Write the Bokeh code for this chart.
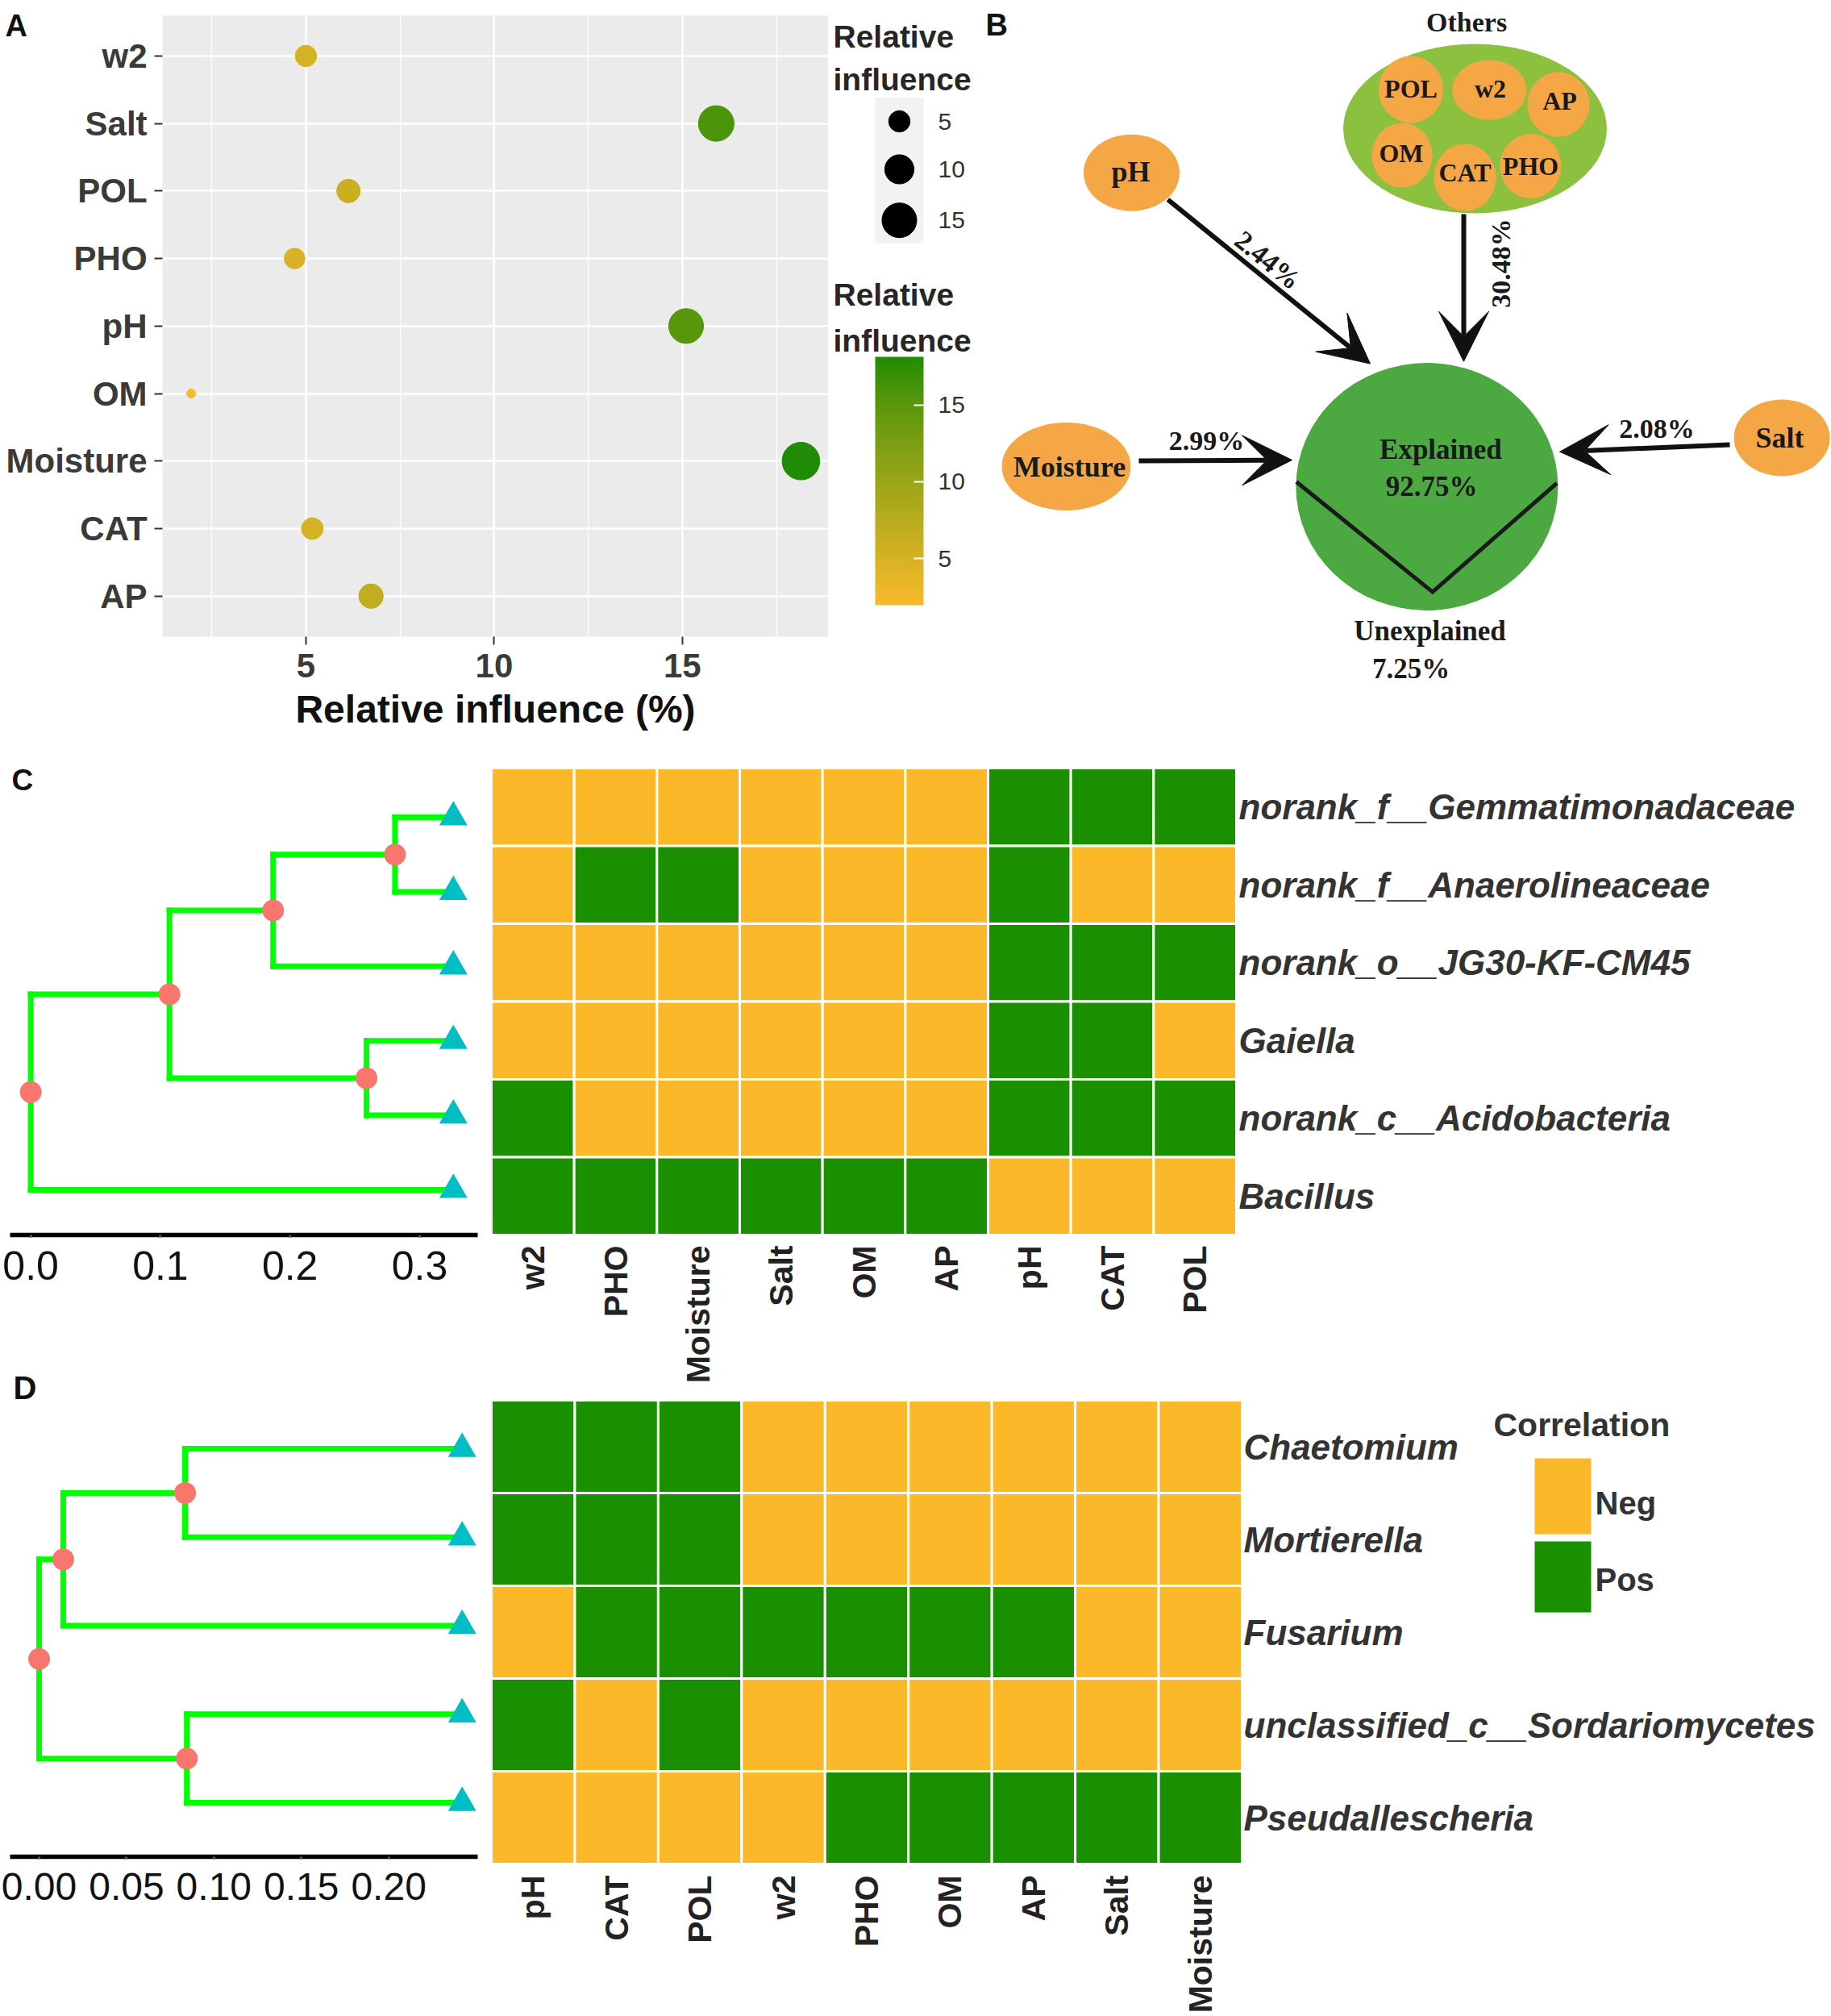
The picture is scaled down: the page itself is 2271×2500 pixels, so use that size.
import math
from bokeh.plotting import figure
from bokeh.models import (Range1d, FixedTicker, Label, Arrow, VeeHead,
                          ColorBar, LinearColorMapper, PrintfTickFormatter)
from bokeh.layouts import row, column
from bokeh.core.properties import value
from bokeh.embed import file_html
from bokeh.resources import INLINE

# ---------------- data ----------------
# Panel A : relative influence (%) of each factor (top to bottom)
a_factors = ["w2", "Salt", "POL", "PHO", "pH", "OM", "Moisture", "CAT", "AP"]
a_influence = [5.0, 15.9, 6.13, 4.7, 15.1, 1.95, 18.15, 5.17, 6.73]
a_x_ticks = [5, 10, 15]
a_x_minor = [2.5, 7.5, 12.5, 17.5]
a_size_legend = [5, 10, 15]
a_color_ticks = [5, 10, 15]

# Panel B : path diagram
b_others = ["POL", "w2", "AP", "OM", "CAT", "PHO"]
b_sources = ["pH", "Others", "Moisture", "Salt"]
b_percent = ["2.44%", "30.48%", "2.99%", "2.08%"]
b_explained = "92.75%"
b_unexplained = "7.25%"

# Panel C : bacterial genera x factors (1 = Pos, 0 = Neg)
c_taxa = ["norank_f__Gemmatimonadaceae", "norank_f__Anaerolineaceae",
          "norank_o__JG30-KF-CM45", "Gaiella", "norank_c__Acidobacteria", "Bacillus"]
c_factors = ["w2", "PHO", "Moisture", "Salt", "OM", "AP", "pH", "CAT", "POL"]
c_sign = [
    [0, 0, 0, 0, 0, 0, 1, 1, 1],
    [0, 1, 1, 0, 0, 0, 1, 0, 0],
    [0, 0, 0, 0, 0, 0, 1, 1, 1],
    [0, 0, 0, 0, 0, 0, 1, 1, 0],
    [1, 0, 0, 0, 0, 0, 1, 1, 1],
    [1, 1, 1, 1, 1, 1, 0, 0, 0],
]
# merges: (child a, child b, node depth); leaves 0..5, new nodes numbered from 6
c_merges = [(0, 1, 0.281), (6, 2, 0.187), (3, 4, 0.259), (7, 8, 0.107), (9, 5, 0.0)]
c_leaf_depth = 0.326
c_ticks = [0.0, 0.1, 0.2, 0.3]

# Panel D : fungal genera x factors
d_taxa = ["Chaetomium", "Mortierella", "Fusarium",
          "unclassified_c__Sordariomycetes", "Pseudallescheria"]
d_factors = ["pH", "CAT", "POL", "w2", "PHO", "OM", "AP", "Salt", "Moisture"]
d_sign = [
    [1, 1, 1, 0, 0, 0, 0, 0, 0],
    [1, 1, 1, 0, 0, 0, 0, 0, 0],
    [0, 1, 1, 1, 1, 1, 1, 0, 0],
    [1, 0, 1, 0, 0, 0, 0, 0, 0],
    [0, 0, 0, 0, 1, 1, 1, 1, 1],
]
d_merges = [(0, 1, 0.0835), (5, 2, 0.0138), (3, 4, 0.0845), (6, 7, 0.0)]
d_leaf_depth = 0.242
d_ticks = [0.0, 0.05, 0.10, 0.15, 0.20]
legend_labels = ["Neg", "Pos"]

# ---------------- style ----------------
SANS = "Liberation Sans"
SERIF = "Liberation Serif"
NEG_COL = "#FBB829"
POS_COL = "#1A8F00"
LOW_COL = "#F9B92B"
HIGH_COL = "#1E8C05"
ORANGE = "#F6A745"


def _lin(c):
    return c / 12.92 if c <= 0.04045 else ((c + 0.055) / 1.055) ** 2.4


def _gam(c):
    c = min(max(c, 0.0), 1.0)
    return 12.92 * c if c <= 0.0031308 else 1.055 * c ** (1 / 2.4) - 0.055


WP = (0.95047, 1.0, 1.08883)


def hex2lab(h):
    r, g, b = [_lin(int(h[i:i + 2], 16) / 255) for i in (1, 3, 5)]
    X = 0.4124 * r + 0.3576 * g + 0.1805 * b
    Y = 0.2126 * r + 0.7152 * g + 0.0722 * b
    Z = 0.0193 * r + 0.1192 * g + 0.9505 * b
    f = lambda t: t ** (1 / 3) if t > 0.008856 else 7.787 * t + 16 / 116
    fx, fy, fz = f(X / WP[0]), f(Y / WP[1]), f(Z / WP[2])
    return (116 * fy - 16, 500 * (fx - fy), 200 * (fy - fz))


def lab2hex(L, a, b):
    fy = (L + 16) / 116
    fx = fy + a / 500
    fz = fy - b / 200
    finv = lambda t: t ** 3 if t ** 3 > 0.008856 else (t - 16 / 116) / 7.787
    X, Y, Z = finv(fx) * WP[0], finv(fy) * WP[1], finv(fz) * WP[2]
    r = 3.2406 * X - 1.5372 * Y - 0.4986 * Z
    g = -0.9689 * X + 1.8758 * Y + 0.0415 * Z
    bb = 0.0557 * X - 0.2040 * Y + 1.0570 * Z
    return "#%02x%02x%02x" % tuple(int(round(_gam(c) * 255)) for c in (r, g, bb))


LAB_LO, LAB_HI = hex2lab(LOW_COL), hex2lab(HIGH_COL)


def grad(t):
    t = min(max(t, 0.0), 1.0)
    return lab2hex(*[lo + (hi - lo) * t for lo, hi in zip(LAB_LO, LAB_HI)])


vmin, vmax = min(a_influence), max(a_influence)


def pt_size(v):
    return 11 + 35.7 * math.sqrt(max(v - vmin, 0) / (vmax - vmin))


def pt_color(v):
    return grad((v - vmin) / (vmax - vmin))


def plain(p):
    p.outline_line_color = None
    p.grid.visible = False
    return p


# ---------------- Panel A ----------------
nA = len(a_factors)
a_ypos = [nA - 1 - i for i in range(nA)]           # w2 on top
A_XLO, A_XHI = 1.19, 18.88                         # panel extent (data units)
A_YLO, A_YHI = -0.6, nA - 1 + 0.6
pA = figure(width=1027, height=940, x_range=Range1d(-3.116, A_XHI), y_range=Range1d(-2.404, 8.823),
            min_border=0, output_backend="svg", toolbar_location=None)
pA.outline_line_color = None
pA.quad(left=[A_XLO], right=[A_XHI], bottom=[A_YLO], top=[A_YHI], fill_color="#EBEBEB",
        line_color=None, level="image")
pA.scatter(x=a_influence, y=a_ypos, size=[pt_size(v) for v in a_influence],
           fill_color=[pt_color(v) for v in a_influence],
           line_color=[pt_color(v) for v in a_influence])
pA.xaxis.ticker = FixedTicker(ticks=a_x_ticks, minor_ticks=a_x_minor)
pA.yaxis.ticker = FixedTicker(ticks=a_ypos)
pA.yaxis.major_label_overrides = {y: f for y, f in zip(a_ypos, a_factors)}
pA.xaxis.fixed_location = A_YLO
pA.yaxis.fixed_location = A_XLO
pA.xaxis.bounds = (A_XLO, A_XHI)
pA.yaxis.bounds = (A_YLO, A_YHI)
pA.xgrid.grid_line_color = "white"
pA.xgrid.grid_line_width = 2.5
pA.xgrid.minor_grid_line_color = "white"
pA.xgrid.minor_grid_line_width = 1.2
pA.ygrid.grid_line_color = "white"
pA.ygrid.grid_line_width = 2.5
for ax in pA.axis:
    ax.axis_line_color = None
    ax.major_tick_line_color = "#333333"
    ax.major_tick_line_width = 2
    ax.major_tick_out = 10
    ax.major_tick_in = 0
    ax.minor_tick_line_color = None
    ax.major_label_text_font = SANS
    ax.major_label_text_font_style = "bold"
    ax.major_label_text_font_size = "42px"
    ax.major_label_text_color = "#3a3a3a"
pA.yaxis.major_label_standoff = 9
pA.xaxis.major_label_standoff = 12
pA.xaxis.axis_label = "Relative influence (%)"
pA.xaxis.axis_label_text_font = SANS
pA.xaxis.axis_label_text_font_style = "bold"
pA.xaxis.axis_label_text_font_size = "48px"
pA.xaxis.axis_label_text_color = "#111111"
pA.xaxis.axis_label_standoff = 9
pA.add_layout(Label(x=-2.99, y=8.70, text="A", text_font=SANS, text_font_style="bold",
                    text_font_size="38px", text_baseline="top", text_color="#111111"))

# ---------------- Panel A legends ----------------
pL = plain(figure(width=180, height=940, x_range=Range1d(1027, 1207), y_range=Range1d(940, 0),
                  x_axis_location=None, y_axis_location=None, min_border=0,
                  output_backend="svg", toolbar_location=None))
pL.text(x=[1033] * 4, y=[45, 98, 364.5, 422],
        text=["Relative", "influence", "Relative", "influence"],
        text_font=value(SANS), text_font_style="bold", text_font_size="39px",
        text_color="#262626", text_align="left", text_baseline="middle")
pL.quad(left=[1085], right=[1145], top=[120.5], bottom=[301], fill_color="#F2F2F2", line_color=None)
size_y = [150, 209.5, 272.7]
pL.scatter(x=[1115] * len(a_size_legend), y=size_y, size=[pt_size(v) for v in a_size_legend],
           fill_color="black", line_color="black")
pL.text(x=[1163] * len(a_size_legend), y=size_y, text=[str(v) for v in a_size_legend],
        text_font=value(SANS), text_font_size="30px", text_color="#333333",
        text_align="left", text_baseline="middle")
mapper = LinearColorMapper(palette=[grad(i / 255) for i in range(256)], low=vmin, high=vmax)
cbar = ColorBar(color_mapper=mapper, ticker=FixedTicker(ticks=a_color_ticks), orientation="vertical",
                width=60, height=308, location=(58, 190), padding=0, title=None,
                bar_line_color=None, major_tick_line_color="white", major_tick_line_width=2,
                major_tick_in=12, major_tick_out=0, minor_tick_line_color=None,
                major_label_text_font=SANS, major_label_text_font_size="30px",
                major_label_text_color="#333333", label_standoff=18,
                background_fill_alpha=0, border_line_color=None)
pL.add_layout(cbar)

# ---------------- Panel B ----------------
pB = plain(figure(width=1064, height=940, x_range=Range1d(1207, 2271), y_range=Range1d(940, 0),
                  x_axis_location=None, y_axis_location=None, min_border=0,
                  output_backend="svg", toolbar_location=None))
# layout of the diagram (pixel positions)
others_pos = {"POL": (1749.5, 110.5, 80, 83), "w2": (1847, 111, 92, 74), "AP": (1932.5, 129, 77, 80),
              "OM": (1738.5, 192, 75, 80), "CAT": (1816.5, 219.6, 77, 83), "PHO": (1898, 205.5, 76, 80)}
others_txt = {"POL": (1749.5, 109), "w2": (1848, 109), "AP": (1934, 124.5),
              "OM": (1737.5, 189), "CAT": (1816.6, 213.5), "PHO": (1898, 205)}
src_pos = {"pH": (1403, 213.7, 119, 95), "Moisture": (1322, 578, 160, 109), "Salt": (2209.6, 542.4, 119, 95)}
src_txt = {"pH": (1402, 212), "Moisture": (1326, 578), "Salt": (2207, 542)}
arrow_pos = {"pH": (1448, 247, 1699, 450.6), "Others": (1815, 265, 1815, 447.7),
             "Moisture": (1412, 571, 1602, 570), "Salt": (2145, 551, 1934, 559.7)}
pct_pos = {"pH": (1572, 322, -0.68), "Others": (1861, 326, math.pi / 2),
           "Moisture": (1496, 546, 0), "Salt": (2054.5, 531, 0)}

pB.ellipse(x=[1829], y=[159], width=[327], height=[210], fill_color="#8CC13F", line_color=None)
pB.ellipse(x=[others_pos[k][0] for k in b_others], y=[others_pos[k][1] for k in b_others],
           width=[others_pos[k][2] for k in b_others], height=[others_pos[k][3] for k in b_others],
           fill_color=ORANGE, line_color=None)
pB.text(x=[others_txt[k][0] for k in b_others], y=[others_txt[k][1] for k in b_others], text=b_others,
        text_font=value(SERIF), text_font_style="bold", text_font_size="32px", text_color="#1a1a1a",
        text_align="center", text_baseline="middle")
pB.text(x=[1818.6], y=[27], text=["Others"], text_font=value(SERIF), text_font_style="bold",
        text_font_size="34px", text_color="#1a1a1a", text_align="center", text_baseline="middle")
src = ["pH", "Moisture", "Salt"]
pB.ellipse(x=[src_pos[k][0] for k in src], y=[src_pos[k][1] for k in src],
           width=[src_pos[k][2] for k in src], height=[src_pos[k][3] for k in src],
           fill_color=ORANGE, line_color=None)
pB.text(x=[src_txt[k][0] for k in src], y=[src_txt[k][1] for k in src], text=src,
        text_font=value(SERIF), text_font_style="bold", text_font_size="36px", text_color="#1a1a1a",
        text_align="center", text_baseline="middle")
pB.ellipse(x=[1769.4], y=[603], width=[325], height=[307], fill_color="#4CA840", line_color=None)
pB.line(x=[1607.4, 1776.3, 1930.5], y=[597, 733.6, 598.7], line_color="#1a1a1a", line_width=5,
        line_join="miter")
pB.text(x=[1786.4, 1775, 1773, 1749.5], y=[557, 603, 782, 829],
        text=["Explained", b_explained, "Unexplained", b_unexplained],
        text_font=value(SERIF), text_font_style="bold", text_font_size="35px", text_color="#1a1a1a",
        text_align="center", text_baseline="middle")
for k in b_sources:
    x0, y0, x1, y1 = arrow_pos[k]
    pB.add_layout(Arrow(end=VeeHead(size=62, fill_color="#111111", line_color="#111111"),
                        x_start=x0, y_start=y0, x_end=x1, y_end=y1,
                        line_width=6, line_color="#111111"))
pB.text(x=[pct_pos[k][0] for k in b_sources], y=[pct_pos[k][1] for k in b_sources],
        angle=[pct_pos[k][2] for k in b_sources], text=b_percent,
        text_font=value(SERIF), text_font_style="bold", text_font_size="34px", text_color="#1a1a1a",
        text_align="center", text_baseline="middle")
pB.add_layout(Label(x=1222, y=9, text="B", text_font=SANS, text_font_style="bold",
                    text_font_size="38px", text_baseline="top", text_color="#111111"))


# ---------------- dendrograms ----------------
def dendro(width, height, left, right, bottom, xr, yr, n, merges, leaf_depth, ticks, fmt,
           font_size, letter, letter_xy, letter_size):
    p = figure(width=width, height=height, x_range=Range1d(*xr), y_range=Range1d(*yr),
               min_border_left=left, min_border_right=right, min_border_top=0,
               min_border_bottom=bottom, y_axis_location=None,
               output_backend="svg", toolbar_location=None)
    plain(p)
    xs = {i: leaf_depth for i in range(n)}
    ys = {i: n - i - 0.5 for i in range(n)}
    x0, y0, x1, y1, nx, ny = [], [], [], [], [], []
    for k, (a, b, h) in enumerate(merges):
        nid = n + k
        yn = (ys[a] + ys[b]) / 2
        xs[nid], ys[nid] = h, yn
        x0 += [h, h, h]
        y0 += [ys[a], ys[a], ys[b]]
        x1 += [h, xs[a], xs[b]]
        y1 += [ys[b], ys[a], ys[b]]
        nx.append(h)
        ny.append(yn)
    p.segment(x0=x0, y0=y0, x1=x1, y1=y1, line_color="#00FF00", line_width=7, line_cap="square")
    p.scatter(x=nx, y=ny, size=27, fill_color="#F8766D", line_color=None)
    p.scatter(x=[leaf_depth] * n, y=[ys[i] for i in range(n)], marker="triangle", size=35,
              fill_color="#00BFC4", line_color=None)
    ax = p.xaxis[0]
    ax.ticker = FixedTicker(ticks=ticks)
    ax.formatter = PrintfTickFormatter(format=fmt)
    ax.axis_line_color = "black"
    ax.axis_line_width = 5.5
    ax.major_tick_line_color = "#555555"
    ax.major_tick_line_width = 3
    ax.major_tick_out = 3
    ax.major_tick_in = 0
    ax.minor_tick_line_color = None
    ax.major_label_text_font = SANS
    ax.major_label_text_font_size = font_size
    ax.major_label_text_color = "#111111"
    ax.major_label_standoff = 17
    p.add_layout(Label(x=letter_xy[0], y=letter_xy[1], x_units="screen", y_units="screen",
                       text=letter, text_font=SANS, text_font_style="bold",
                       text_font_size=letter_size, text_baseline="top", text_color="#111111"))
    return p


pDC = dendro(609, 760, 12, 17, 169, (-0.01592, 0.3448), (-0.106, 6.29), len(c_taxa), c_merges,
             c_leaf_depth, c_ticks, "%.1f", "50px", "C", (2, 585), "37px")
pDD = dendro(609, 800, 12, 17, 198, (-0.0166, 0.2509), (-0.11, 5.375), len(d_taxa), d_merges,
             d_leaf_depth, d_ticks, "%.2f", "48px", "D", (4, 604), "40px")


# ---------------- heatmaps ----------------
def heat(taxa, factors, sign, cw, ch, fig_w, fig_h, top_pad, col_gap, row_gap):
    nr, nc = len(taxa), len(factors)
    y_start = -(fig_h - top_pad - nr * ch) / ch
    p = plain(figure(width=fig_w, height=fig_h, x_range=Range1d(0, fig_w / cw),
                     y_range=Range1d(y_start, nr + top_pad / ch),
                     x_axis_location=None, y_axis_location=None, min_border=0,
                     output_backend="svg", toolbar_location=None))
    xs, ys, cols = [], [], []
    for i in range(nr):
        for j in range(nc):
            xs.append(j + 0.5)
            ys.append(nr - i - 0.5)
            cols.append(POS_COL if sign[i][j] else NEG_COL)
    p.rect(x=xs, y=ys, width=1, height=1, fill_color=cols, line_color="white", line_width=3)
    p.text(x=[nc + row_gap / cw] * nr, y=[nr - i - 0.5 for i in range(nr)], text=taxa,
           text_font=value(SANS), text_font_style="bold italic", text_font_size="44px",
           text_color="#333333", text_align="left", text_baseline="middle")
    p.text(x=[j + 0.5 for j in range(nc)], y=[-col_gap / ch] * nc, text=factors, angle=math.pi / 2,
           text_font=value(SANS), text_font_style="bold", text_font_size="41px",
           text_color="#222222", text_align="right", text_baseline="middle")
    return p


pHC = heat(c_taxa, c_factors, c_sign, 924 / 9, 579 / 6, 1662, 780, 12, 13, 3)
pHD = heat(d_taxa, d_factors, d_sign, 931 / 9, 575 / 5, 1662, 780, 16, 14, 2)

# legend of panel D (pixel layout converted to the heatmap's cell units)
cwD, chD = 931 / 9, 575 / 5
hx = lambda px: (px - 609) / cwD
hy = lambda py: len(d_taxa) - (py - 1736) / chD
pHD.quad(left=[hx(1903)] * 2, right=[hx(1973)] * 2, top=[hy(1808), hy(1911)],
         bottom=[hy(1902), hy(1999)], fill_color=[NEG_COL, POS_COL], line_color=None)
pHD.text(x=[hx(1852)], y=[hy(1766)], text=["Correlation"], text_font=value(SANS),
         text_font_style="bold", text_font_size="41px", text_color="#333333",
         text_align="left", text_baseline="middle")
pHD.text(x=[hx(1978)] * 2, y=[hy(1863), hy(1958)], text=legend_labels, text_font=value(SANS),
         text_font_style="bold", text_font_size="40px", text_color="#333333",
         text_align="left", text_baseline="middle")

layout = column(row(pA, pL, pB), row(column(pDC, pDD), column(pHC, pHD)))
open("out.html", "w").write(file_html(layout, INLINE))
